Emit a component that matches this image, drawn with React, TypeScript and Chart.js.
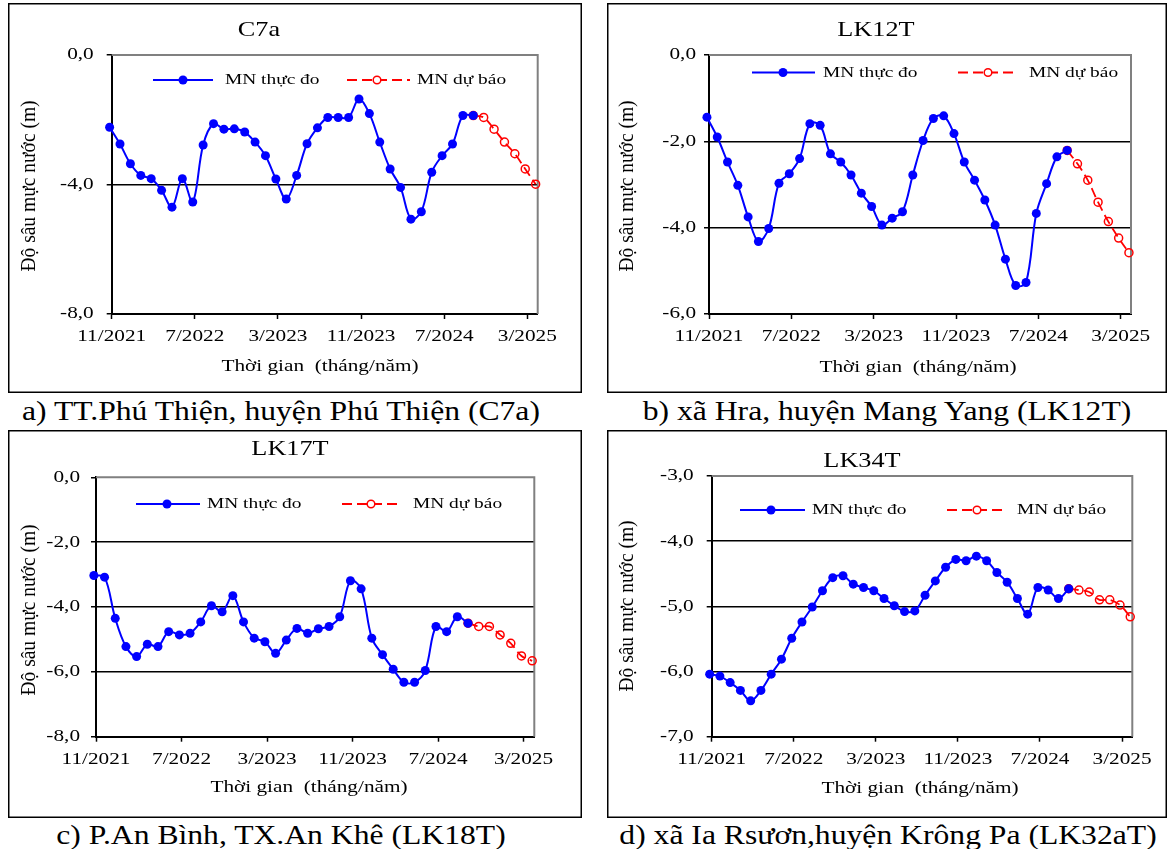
import React, { useEffect, useRef } from 'react';
import { Chart, registerables } from 'chart.js';

Chart.register(...registerables);

// ---------------- data ----------------
const TICK_MONTHS = [0, 8, 16, 24, 32, 40];
const TICK_LABELS = ['11/2021', '7/2022', '3/2023', '11/2023', '7/2024', '3/2025'];
const FORECAST_START_INDEX = 35;
const MEASURE_DAY_SHIFT = -0.2; // months, measurement date offset from month start

const C7A_MEASURED = [-2.23, -2.75, -3.36, -3.72, -3.82, -4.18, -4.7, -3.82, -4.54, -2.78, -2.12, -2.29, -2.28, -2.38, -2.69, -3.11, -3.83, -4.45, -3.72, -2.74, -2.25, -1.93, -1.93, -1.93, -1.36, -1.81, -2.69, -3.52, -4.09, -5.07, -4.84, -3.62, -3.11, -2.75, -1.87, -1.87];
const C7A_FORECAST = [-1.87, -1.93, -2.29, -2.69, -3.05, -3.52, -3.99];

const LK12T_MEASURED = [-1.44, -1.9, -2.48, -3.02, -3.75, -4.32, -4.02, -2.97, -2.75, -2.4, -1.59, -1.63, -2.29, -2.48, -2.78, -3.2, -3.51, -3.94, -3.78, -3.63, -2.78, -1.98, -1.47, -1.41, -1.82, -2.48, -2.9, -3.36, -3.94, -4.73, -5.34, -5.27, -3.67, -2.98, -2.36, -2.21];
const LK12T_FORECAST = [-2.21, -2.52, -2.9, -3.41, -3.86, -4.24, -4.58];

const LK17T_MEASURED = [-3.03, -3.08, -4.35, -5.22, -5.53, -5.15, -5.22, -4.76, -4.86, -4.81, -4.46, -3.96, -4.15, -3.65, -4.46, -4.96, -5.07, -5.43, -5.02, -4.66, -4.81, -4.67, -4.6, -4.3, -3.19, -3.44, -4.96, -5.47, -5.92, -6.32, -6.32, -5.96, -4.6, -4.76, -4.3, -4.5];
const LK17T_FORECAST = [-4.5, -4.6, -4.6, -4.86, -5.12, -5.51, -5.66];

const LK34T_MEASURED = [-6.04, -6.07, -6.17, -6.29, -6.45, -6.29, -6.04, -5.81, -5.49, -5.24, -5.01, -4.76, -4.56, -4.53, -4.66, -4.71, -4.76, -4.88, -4.99, -5.08, -5.07, -4.83, -4.61, -4.4, -4.28, -4.3, -4.23, -4.3, -4.48, -4.63, -4.88, -5.12, -4.71, -4.75, -4.88, -4.73];
const LK34T_FORECAST = [-4.73, -4.75, -4.78, -4.9, -4.9, -4.98, -5.16];

const SERIES_MEASURED = 'MN thực đo';
const SERIES_FORECAST = 'MN dự báo';
const Y_TITLE = 'Độ sâu mực nước (m)';
const X_TITLE = 'Thời gian  (tháng/năm)';

// ---------------- styles / layout ----------------
const FONT = "'Liberation Serif', 'Times New Roman', serif";
const SX = 1.25; // horizontal text stretch
const BLUE = '#0000ff';
const RED = '#ff0000';

type PanelCfg = {
  key: string;
  title: string;
  caption: string;
  measured: number[];
  forecast: number[];
  yMin: number; yMax: number; yStep: number;
  box: { x: number; y: number; w: number; h: number };
  plot: { l: number; t: number; r: number; b: number };
  titlePos: [number, number];
  yTitlePos: [number, number];
  xTitlePos: [number, number];
  yLabelGap: number;
  legendY: number;
  legBlue: [number, number, number, number]; // x1, x2, dot, text
  legRed: [number, number, number, number];
  captionPos: [number, number];
};

const PANELS: PanelCfg[] = [
  {
    key: 'a', title: 'C7a', caption: 'a) TT.Phú Thiện, huyện Phú Thiện (C7a)',
    measured: C7A_MEASURED, forecast: C7A_FORECAST, yMin: -8, yMax: 0, yStep: 4,
    box: { x: 8, y: 3, w: 574, h: 390 },
    plot: { l: 103.7, t: 52, r: 529.7, b: 311 },
    titlePos: [251, 27], yTitlePos: [22, 183], xTitlePos: [312, 364], yLabelGap: 18,
    legendY: 77, legBlue: [145, 205, 175, 217], legRed: [339, 402, 369, 409],
    captionPos: [281, 411],
  },
  {
    key: 'b', title: 'LK12T', caption: 'b) xã Hra, huyện Mang Yang (LK12T)',
    measured: LK12T_MEASURED, forecast: LK12T_FORECAST, yMin: -6, yMax: 0, yStep: 2,
    box: { x: 607, y: 3, w: 560, h: 390 },
    plot: { l: 102, t: 52, r: 524, b: 311 },
    titlePos: [269, 27], yTitlePos: [21, 183], xTitlePos: [311, 365], yLabelGap: 13,
    legendY: 69.5, legBlue: [145, 208, 176, 216], legRed: [351, 406, 381, 422],
    captionPos: [887, 411],
  },
  {
    key: 'c', title: 'LK17T', caption: 'c) P.An Bình, TX.An Khê (LK18T)',
    measured: LK17T_MEASURED, forecast: LK17T_FORECAST, yMin: -8, yMax: 0, yStep: 2,
    box: { x: 8, y: 430, w: 574, h: 388 },
    plot: { l: 88, t: 47.3, r: 526.3, b: 306.7 },
    titlePos: [282, 19], yTitlePos: [22, 180], xTitlePos: [301, 358], yLabelGap: 16,
    legendY: 74, legBlue: [128, 192, 159, 199], legRed: [334, 390, 363, 405],
    captionPos: [281, 835],
  },
  {
    key: 'd', title: 'LK34T', caption: 'd) xã Ia Rsươn,huyện Krông Pa (LK32aT)',
    measured: LK34T_MEASURED, forecast: LK34T_FORECAST, yMin: -7, yMax: -3, yStep: 1,
    box: { x: 607, y: 430, w: 560, h: 388 },
    plot: { l: 104.7, t: 46, r: 525.3, b: 306.7 },
    titlePos: [255, 31], yTitlePos: [21, 176], xTitlePos: [313, 359], yLabelGap: 18,
    legendY: 80, legBlue: [133, 198, 164, 205], legRed: [340, 395, 370, 410],
    captionPos: [888, 835],
  },
];

function drawText(
  ctx: CanvasRenderingContext2D, s: string, x: number, y: number, size: number,
  align: CanvasTextAlign = 'center', rot = 0, stretch = SX,
) {
  ctx.save();
  ctx.translate(x, y);
  if (rot) {
    ctx.rotate(rot);
    ctx.scale(1, stretch);
  } else {
    ctx.scale(stretch, 1);
  }
  ctx.font = `${size}px ${FONT}`;
  ctx.fillStyle = '#000';
  ctx.textAlign = align;
  ctx.textBaseline = 'middle';
  ctx.fillText(s, 0, 0);
  ctx.restore();
}

const fmt = (v: number) => (Math.abs(v) < 1e-9 ? 0 : v).toFixed(1).replace('.', ',');

function Panel({ cfg }: { cfg: PanelCfg }) {
  const ref = useRef<HTMLCanvasElement>(null);
  useEffect(() => {
    const canvas = ref.current!;
    const { box, plot } = cfg;
    const measuredPts = cfg.measured.map((v, i) => ({ x: i + MEASURE_DAY_SHIFT, y: v }));
    const forecastPts = cfg.forecast.map((v, j) => ({ x: FORECAST_START_INDEX + j + MEASURE_DAY_SHIFT, y: v }));

    const decor = {
      id: 'decor' + cfg.key,
      beforeDatasetsDraw(chart: any) {
        const ctx = chart.ctx as CanvasRenderingContext2D;
        const a = chart.chartArea;
        ctx.save();
        ctx.strokeStyle = '#808080';
        ctx.lineWidth = 2;
        ctx.beginPath();
        ctx.moveTo(a.left, a.top);
        ctx.lineTo(a.right, a.top);
        ctx.lineTo(a.right, a.bottom);
        ctx.stroke();
        ctx.restore();
      },
      afterDraw(chart: any) {
        const ctx = chart.ctx as CanvasRenderingContext2D;
        const a = chart.chartArea;
        // frame
        ctx.save();
        ctx.strokeStyle = '#000';
        ctx.lineWidth = 1.5;
        ctx.strokeRect(0.75, 0.75, box.w - 1.5, box.h - 1.5);
        ctx.restore();
        // titles
        drawText(ctx, cfg.title, cfg.titlePos[0], cfg.titlePos[1], 21);
        drawText(ctx, X_TITLE, cfg.xTitlePos[0], cfg.xTitlePos[1], 17);
        drawText(ctx, Y_TITLE, cfg.yTitlePos[0], cfg.yTitlePos[1], 19.5, 'center', -Math.PI / 2, 1.05);
        // tick labels
        const ys = chart.scales.y;
        ys.ticks.forEach((t: any) => {
          drawText(ctx, fmt(t.value), a.left - cfg.yLabelGap, ys.getPixelForValue(t.value), 17, 'right');
        });
        const xs = chart.scales.x;
        xs.ticks.forEach((t: any, i: number) => {
          drawText(ctx, TICK_LABELS[i], xs.getPixelForValue(t.value), a.bottom + 23, 17, 'center');
        });
        // legend
        const ly = cfg.legendY;
        ctx.save();
        ctx.strokeStyle = BLUE;
        ctx.lineWidth = 2;
        ctx.beginPath();
        ctx.moveTo(cfg.legBlue[0], ly);
        ctx.lineTo(cfg.legBlue[1], ly);
        ctx.stroke();
        ctx.fillStyle = BLUE;
        ctx.beginPath();
        ctx.arc(cfg.legBlue[2], ly, 4.5, 0, Math.PI * 2);
        ctx.fill();
        ctx.strokeStyle = RED;
        ctx.lineWidth = 1.8;
        ctx.setLineDash([10, 5]);
        ctx.beginPath();
        ctx.moveTo(cfg.legRed[0], ly);
        ctx.lineTo(cfg.legRed[1], ly);
        ctx.stroke();
        ctx.setLineDash([]);
        ctx.fillStyle = '#fff';
        ctx.beginPath();
        ctx.arc(cfg.legRed[2], ly, 3.8, 0, Math.PI * 2);
        ctx.fill();
        ctx.lineWidth = 1.5;
        ctx.stroke();
        ctx.restore();
        drawText(ctx, SERIES_MEASURED, cfg.legBlue[3], ly, 15.5, 'left');
        drawText(ctx, SERIES_FORECAST, cfg.legRed[3], ly, 15.5, 'left');
      },
    };

    const chart = new Chart(canvas, {
      type: 'line',
      data: {
        datasets: [
          {
            label: SERIES_MEASURED,
            data: measuredPts,
            borderColor: BLUE,
            backgroundColor: BLUE,
            borderWidth: 2,
            pointRadius: 4.5,
            pointBorderWidth: 0,
            pointBackgroundColor: BLUE,
            tension: 0.35,
            clip: false as any,
          },
          {
            label: SERIES_FORECAST,
            data: forecastPts,
            borderColor: RED,
            backgroundColor: 'rgba(0,0,0,0)',
            borderWidth: 1.8,
            borderDash: [10, 5],
            pointRadius: 4,
            pointBorderWidth: 1.5,
            pointBorderColor: RED,
            pointBackgroundColor: 'rgba(0,0,0,0)',
            tension: 0.35,
            clip: false as any,
          },
        ],
      },
      options: {
        animation: false,
        responsive: false,
        maintainAspectRatio: false,
        events: [],
        layout: { padding: { left: 0, top: plot.t, right: box.w - plot.r, bottom: 0 } },
        plugins: { legend: { display: false }, title: { display: false }, tooltip: { enabled: false } },
        scales: {
          x: {
            type: 'linear',
            min: 0,
            max: 41,
            afterBuildTicks: (s: any) => { s.ticks = TICK_MONTHS.map((v) => ({ value: v })); },
            afterFit: (s: any) => { s.height = box.h - plot.b; },
            ticks: { display: false },
            grid: { drawOnChartArea: false, drawTicks: true, tickLength: 5, tickColor: '#000', tickWidth: 1.5 },
            border: { color: '#000', width: 2 },
          },
          y: {
            type: 'linear',
            min: cfg.yMin,
            max: cfg.yMax,
            afterFit: (s: any) => { s.width = plot.l; },
            ticks: { display: false, stepSize: cfg.yStep },
            grid: {
              color: (c: any) => (c.tick && c.tick.value > cfg.yMin + 1e-9 && c.tick.value < cfg.yMax - 1e-9 ? '#000' : 'rgba(0,0,0,0)'),
              lineWidth: 1.5,
              drawTicks: true,
              tickLength: 5,
              tickColor: '#000',
              tickWidth: 1.5,
            },
            border: { color: '#000', width: 2 },
          },
        },
      } as any,
      plugins: [decor],
    });
    return () => chart.destroy();
  }, [cfg]);
  return (
    <canvas
      ref={ref}
      width={cfg.box.w}
      height={cfg.box.h}
      style={{ position: 'absolute', left: cfg.box.x, top: cfg.box.y, width: cfg.box.w, height: cfg.box.h }}
    />
  );
}

export default function App() {
  return (
    <div style={{ position: 'fixed', left: 0, top: 0, width: 1172, height: 849, background: '#fff', overflow: 'hidden' }}>
      {PANELS.map((p) => (
        <Panel key={p.key} cfg={p} />
      ))}
      {PANELS.map((p) => (
        <div
          key={'cap' + p.key}
          style={{
            position: 'absolute',
            left: p.captionPos[0],
            top: p.captionPos[1],
            transform: 'translate(-50%, -50%) scaleX(1.13)',
            fontFamily: FONT,
            fontSize: 28,
            lineHeight: '30px',
            whiteSpace: 'nowrap',
            color: '#000',
          }}
        >
          {p.caption}
        </div>
      ))}
    </div>
  );
}
